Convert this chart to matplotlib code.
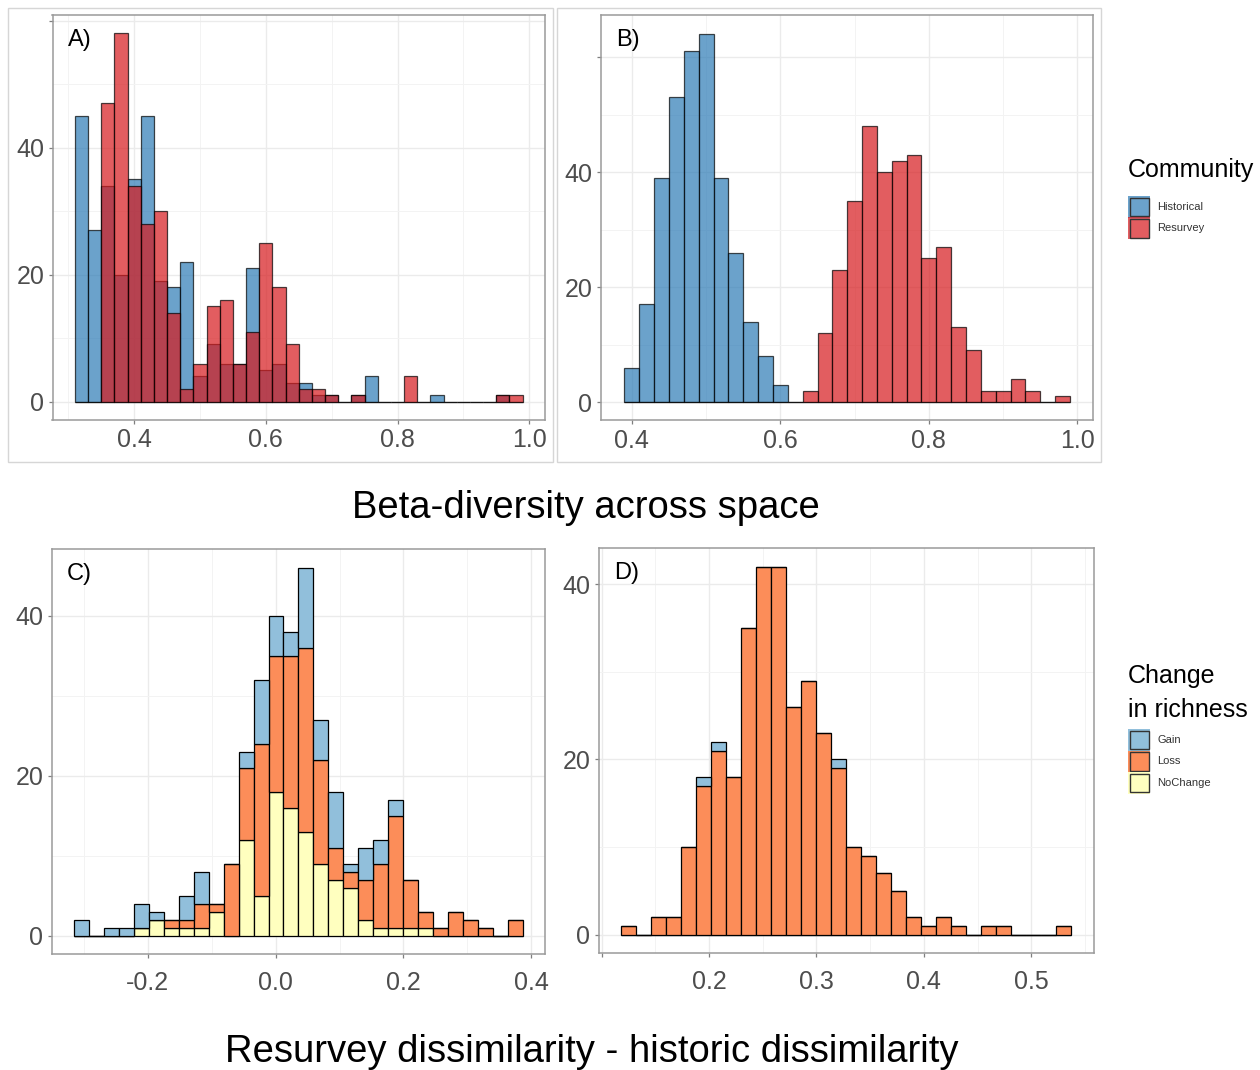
import numpy as np
import matplotlib
matplotlib.use('Agg')
import matplotlib.pyplot as plt
from matplotlib.patches import Rectangle

plt.rcParams['font.family'] = ['Liberation Sans', 'DejaVu Sans']

# ---- data: beta-diversity (panels A, B), binwidth 0.02
a_start = 0.31
a_hist = [45, 27, 34, 20, 35, 45, 19, 18, 22, 4, 9, 6, 6, 21, 5, 6, 3, 3, 1, 1,
          0, 1, 4, 0, 0, 0, 0, 1, 0, 0, 0, 0, 1, 0]
a_resu = [0, 0, 47, 58, 34, 28, 30, 14, 2, 6, 15, 16, 6, 11, 25, 18, 9, 2, 2, 1,
          0, 1, 0, 0, 0, 4, 0, 0, 0, 0, 0, 0, 1, 1]

b_start = 0.39
b_hist = [6, 17, 39, 53, 61, 64, 39, 26, 14, 8, 3, 0, 0, 0, 0, 0, 0, 0, 0, 0,
          0, 0, 0, 0, 0, 0, 0, 0, 0, 0]
b_resu = [0, 0, 0, 0, 0, 0, 0, 0, 0, 0, 0, 0, 2, 12, 23, 35, 48, 40, 42, 43,
          25, 27, 13, 9, 2, 2, 4, 2, 0, 1]

# ---- data: resurvey - historic dissimilarity (panels C, D), 30 bins
c_start, c_width = -0.3153, 0.0234
c_gain = [2, 0, 1, 1, 3, 1, 0, 3, 4, 0, 0, 2, 8, 5, 3, 10, 5, 7, 1, 4,
          3, 2, 0, 0, 0, 0, 0, 0, 0, 0]
c_loss = [0, 0, 0, 0, 0, 0, 1, 1, 3, 1, 9, 9, 19, 17, 19, 23, 13, 4, 2, 5,
          8, 14, 6, 2, 1, 3, 2, 1, 0, 2]
c_none = [0, 0, 0, 0, 1, 2, 1, 1, 1, 3, 0, 12, 5, 18, 16, 13, 9, 7, 6, 2,
          1, 1, 1, 1, 0, 0, 0, 0, 0, 0]

d_start, d_width = 0.1181, 0.01398
d_gain = [0, 0, 0, 0, 0, 1, 1, 0, 0, 0, 0, 0, 0, 0, 1, 0, 0, 0, 0, 0,
          0, 0, 0, 0, 0, 0, 0, 0, 0, 0]
d_loss = [1, 0, 2, 2, 10, 17, 21, 18, 35, 42, 42, 26, 29, 23, 19, 10, 9, 7, 5, 2,
          1, 2, 1, 0, 1, 1, 0, 0, 0, 1]
d_none = [0] * 30

community = ['Historical', 'Resurvey']
richness = ['Gain', 'Loss', 'NoChange']

col_hist, col_resu = '#2C7BB6', '#D7191C'
col_gain, col_loss, col_none = '#91BFDB', '#FC8D59', '#FFFFBF'

W, H = 1260, 1070
fig = plt.figure(figsize=(W / 100, H / 100), dpi=100)


def add_panel(l, t, r, b):
    return fig.add_axes([l / W, 1 - b / H, (r - l) / W, (b - t) / H])


def style(ax, xlim, ylim, xt, xtl, xminor, yt, ytl, yminor, tag, xpad=3):
    ax.set_xlim(*xlim)
    ax.set_ylim(*ylim)
    ax.set_xticks(xt)
    ax.set_xticklabels(xtl)
    ax.set_xticks(xminor, minor=True)
    ax.set_yticks(yt)
    ax.set_yticklabels(ytl)
    ax.set_yticks(yminor, minor=True)
    ax.set_axisbelow(True)
    ax.grid(which='major', color='#EBEBEB', lw=1.0)
    ax.grid(which='minor', color='#F3F3F3', lw=0.7)
    ax.tick_params(which='major', length=3, width=0.9, color='#7F7F7F',
                   labelsize=18, labelcolor='#4D4D4D', pad=3)
    ax.tick_params(axis='x', which='major', pad=xpad)
    ax.tick_params(which='minor', length=0)
    for s in ax.spines.values():
        s.set_color('#9A9A9A')
        s.set_linewidth(1.1)
    ax.text(0.031, 0.965, tag, transform=ax.transAxes, ha='left', va='top',
            fontsize=17, color='black')


def bars(ax, start, width, heights, bottom=None, color='grey', alpha=1.0):
    x = start + width * np.arange(len(heights))
    ax.bar(x, heights, width=width, bottom=bottom, align='edge', color=color,
           alpha=alpha, edgecolor='black', linewidth=0.9)


# A) overlapping histograms
axA = add_panel(52.5, 15, 545, 420)
bars(axA, a_start, 0.02, a_hist, color=col_hist, alpha=0.7)
bars(axA, a_start, 0.02, a_resu, color=col_resu, alpha=0.7)
style(axA, (0.276, 1.024), (-2.9, 60.9), [0.4, 0.6, 0.8, 1.0],
      ['0.4', '0.6', '0.8', '1.0'], [0.3, 0.5, 0.7, 0.9],
      [0, 20, 40, 60], ['0', '20', '40', ''], [10, 30, 50], 'A)')

# B)
axB = add_panel(600.7, 15, 1093, 420.5)
bars(axB, b_start, 0.02, b_hist, color=col_hist, alpha=0.7)
bars(axB, b_start, 0.02, b_resu, color=col_resu, alpha=0.7)
style(axB, (0.358, 1.021), (-3.2, 67.3), [0.4, 0.6, 0.8, 1.0],
      ['0.4', '0.6', '0.8', '1.0'], [0.5, 0.7, 0.9],
      [0, 20, 40, 60], ['0', '20', '40', ''], [10, 30, 50], 'B)')

# C) stacked by change in richness
axC = add_panel(51.8, 549.3, 545, 954)
c_none_a = np.array(c_none)
c_loss_a = np.array(c_loss)
bars(axC, c_start, c_width, c_none_a, color=col_none)
bars(axC, c_start, c_width, c_loss_a, bottom=c_none_a, color=col_loss)
bars(axC, c_start, c_width, c_gain, bottom=c_none_a + c_loss_a, color=col_gain)
style(axC, (-0.3504, 0.4217), (-2.3, 48.3), [-0.2, 0.0, 0.2, 0.4],
      ['-0.2', '0.0', '0.2', '0.4'], [-0.3, -0.1, 0.1, 0.3],
      [0, 20, 40], ['0', '20', '40'], [10, 30], 'C)', xpad=9)

# D)
axD = add_panel(598.6, 548.3, 1094, 953)
d_none_a = np.array(d_none)
d_loss_a = np.array(d_loss)
bars(axD, d_start, d_width, d_none_a, color=col_none)
bars(axD, d_start, d_width, d_loss_a, bottom=d_none_a, color=col_loss)
bars(axD, d_start, d_width, d_gain, bottom=d_none_a + d_loss_a, color=col_gain)
style(axD, (0.0971, 0.5585), (-2.1, 44.1), [0.1, 0.2, 0.3, 0.4, 0.5],
      ['', '0.2', '0.3', '0.4', '0.5'], [0.15, 0.25, 0.35, 0.45, 0.55],
      [0, 20, 40], ['0', '20', '40'], [10, 30], 'D)', xpad=9)

# light frames round the top two plots
for l, t, r, b in [(8, 8, 552.5, 461.5), (557, 8, 1101, 461.5)]:
    fig.add_artist(Rectangle((l / W, 1 - b / H), (r - l) / W, (b - t) / H,
                             transform=fig.transFigure, fill=False,
                             edgecolor='#D6D6D6', lw=1.0))

fig.text(586 / W, 1 - 508 / H, 'Beta-diversity across space', ha='center',
         va='center', fontsize=27.5)
fig.text(591.5 / W, 1 - 1052 / H, 'Resurvey dissimilarity - historic dissimilarity',
         ha='center', va='center', fontsize=27.5)


def key_legend(title, title_y, labels, colors, top, alpha=1.0):
    fig.text(1128 / W, 1 - title_y / H, title, ha='left', va='center',
             fontsize=18, linespacing=1.5)
    kh = 21.5
    for i, (lab, c) in enumerate(zip(labels, colors)):
        y0 = top + i * kh
        fig.add_artist(Rectangle((1128 / W, 1 - (y0 + kh) / H), 22 / W, kh / H,
                                 transform=fig.transFigure, facecolor=c,
                                 alpha=alpha, edgecolor='none'))
        fig.add_artist(Rectangle((1129.5 / W, 1 - (y0 + kh - 1.5) / H), 19 / W,
                                 (kh - 3) / H, transform=fig.transFigure,
                                 fill=False, edgecolor='#333333', lw=1.0))
        fig.text(1157 / W, 1 - (y0 + kh / 2) / H, lab, ha='left', va='center',
                 fontsize=8, color='#333333')


key_legend('Community', 170, community, [col_hist, col_resu], 196, alpha=0.7)
key_legend('Change\nin richness', 693, richness, [col_gain, col_loss, col_none], 729)

fig.savefig('out.png', dpi=100)
